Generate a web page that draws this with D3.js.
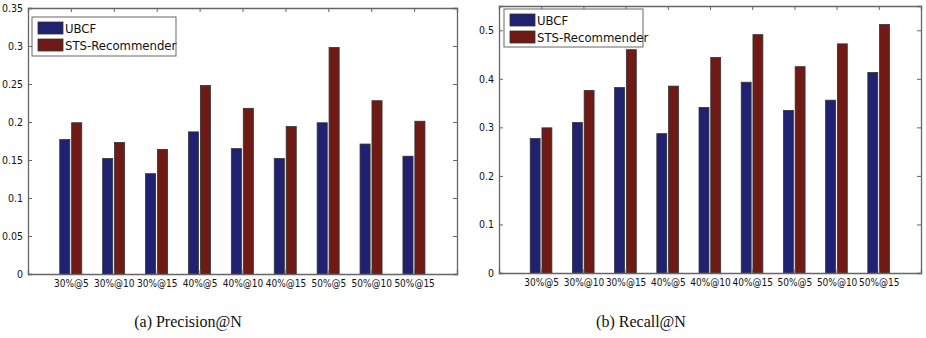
<!DOCTYPE html>
<html>
<head>
<meta charset="utf-8">
<script src="https://cdn.jsdelivr.net/npm/d3@7"></script>
<style>
  body { margin: 0; background: #fff; }
  svg text { font-family: "DejaVu Sans Condensed", "DejaVu Sans", sans-serif; }
</style>
</head>
<body>
<div id="chart"></div>
<script>
// categories and series values
const categories = ["30%@5", "30%@10", "30%@15", "40%@5", "40%@10", "40%@15", "50%@5", "50%@10", "50%@15"];
const seriesNames = ["UBCF", "STS-Recommender"];

const precisionUBCF = [0.177, 0.152, 0.132, 0.187, 0.165, 0.152, 0.199, 0.171, 0.155];
const precisionSTS  = [0.199, 0.173, 0.164, 0.248, 0.218, 0.194, 0.298, 0.228, 0.201];

const recallUBCF = [0.277, 0.310, 0.382, 0.287, 0.341, 0.393, 0.335, 0.356, 0.413];
const recallSTS  = [0.299, 0.376, 0.460, 0.385, 0.444, 0.491, 0.425, 0.472, 0.512];

const precisionTicks = [0, 0.05, 0.1, 0.15, 0.2, 0.25, 0.3, 0.35];
const recallTicks = [0, 0.1, 0.2, 0.3, 0.4, 0.5];

const colors = ["#212171", "#701a16"];
const tickFont = "'DejaVu Sans Condensed', 'Liberation Sans Narrow', sans-serif";

const svg = d3.select("#chart")
  .append("svg")
    .attr("width", 926)
    .attr("height", 338);

function drawPanel(opts) {
  const { left, right, top, bottom, yMax, ticks, series, legend, caption, captionX } = opts;
  const w = right - left;
  const h = bottom - top;

  const g = svg.append("g").attr("transform", `translate(${left},${top})`);

  // MATLAB style: groups at 1..9, limits [0,10]
  const x = d3.scaleLinear().domain([0, categories.length + 1]).range([0, w]);
  const y = d3.scaleLinear().domain([0, yMax]).range([h, 0]);

  const barW = 0.235;
  const offsets = [-0.26, 0.018];

  series.forEach((vals, si) => {
    g.selectAll(".bar" + si)
      .data(vals)
      .enter().append("rect")
        .attr("x", (d, i) => x(i + 1 + offsets[si]))
        .attr("y", d => y(d))
        .attr("width", x(barW) - x(0))
        .attr("height", d => h - y(d))
        .attr("fill", colors[si])
        .attr("stroke", "#333")
        .attr("stroke-width", 0.8);
  });

  const axisColor = "#666";

  // ticks inside on all four sides
  const yAxis = g.append("g")
    .call(d3.axisLeft(y).tickValues(ticks).tickSize(-4).tickPadding(5).tickFormat(d3.format("")));
  const yAxisR = g.append("g")
    .attr("transform", `translate(${w},0)`)
    .call(d3.axisRight(y).tickValues(ticks).tickSize(-4).tickFormat(""));
  const xAxis = g.append("g")
    .attr("transform", `translate(0,${h})`)
    .call(d3.axisBottom(x).tickValues(d3.range(1, categories.length + 1)).tickSize(-4).tickPadding(6)
      .tickFormat(d => categories[d - 1]));
  const xAxisT = g.append("g")
    .call(d3.axisTop(x).tickValues(d3.range(1, categories.length + 1)).tickSize(-4).tickFormat(""));

  [yAxis, yAxisR, xAxis, xAxisT].forEach(a => {
    a.select(".domain").attr("stroke", axisColor).attr("stroke-width", 1.3);
    a.selectAll(".tick line").attr("stroke", axisColor);
    a.selectAll("text").attr("fill", "#111").style("font-size", "10.5px").style("font-family", tickFont);
  });
  xAxis.selectAll("text").style("font-size", "10px");

  // legend
  const lg = g.append("g").attr("transform", `translate(${legend.x - left},${legend.y - top})`);
  lg.append("rect")
    .attr("width", legend.w).attr("height", legend.h)
    .attr("fill", "#fff").attr("stroke", "#666").attr("stroke-width", 1);
  seriesNames.forEach((name, i) => {
    lg.append("rect")
      .attr("x", 6).attr("y", 5 + i * 17)
      .attr("width", 25).attr("height", 12)
      .attr("fill", colors[i]).attr("stroke", "#333").attr("stroke-width", 0.8);
    lg.append("text")
      .attr("x", 33).attr("y", 16 + i * 17)
      .style("font-size", "13px")
      .style("font-family", tickFont)
      .attr("fill", "#111")
      .text(name);
  });

  svg.append("text")
    .attr("x", captionX)
    .attr("y", 327)
    .attr("text-anchor", "middle")
    .style("font-family", "'Liberation Serif', serif")
    .style("font-size", "16px")
    .attr("fill", "#111")
    .text(caption);
}

drawPanel({
  left: 28, right: 457, top: 8, bottom: 274,
  yMax: 0.35, ticks: precisionTicks,
  series: [precisionUBCF, precisionSTS],
  legend: { x: 32, y: 17, w: 144, h: 39 },
  caption: "(a) Precision@N", captionX: 188
});

drawPanel({
  left: 499, right: 921, top: 6, bottom: 273,
  yMax: 0.55, ticks: recallTicks,
  series: [recallUBCF, recallSTS],
  legend: { x: 504, y: 9, w: 139, h: 38 },
  caption: "(b) Recall@N", captionX: 641
});
</script>
</body>
</html>
